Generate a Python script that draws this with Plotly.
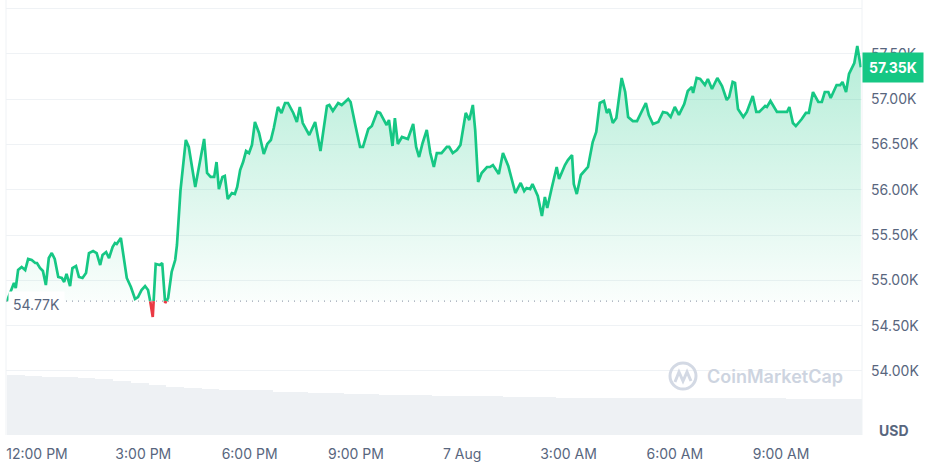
import pandas as pd
import plotly.graph_objects as go

# ---------------- data ----------------
start = pd.Timestamp("2024-08-06 11:00")

# minutes after 11:00 AM, 6 Aug 2024
t_min = [9,17,21,24,28,34,40,45,51,57,
         60,65,70,75,80,85,90,96,102,106,
         110,116,120,126,131,137,143,148,155,161,
         167,171,177,182,188,192,195,202,207,212,
         219,226,231,237,243,248,252,256,261,268,
         272,277,282,288,294,297,303,312,317,328,
         336,343,348,354,360,364,368,374,378,383,
         390,395,399,404,409,414,419,424,429,436,
         444,450,456,461,468,474,480,485,494,500,
         505,510,521,531,540,551,555,561,570,576,
         587,591,599,607,612,621,627,636,641,652,
         656,662,666,671,678,686,688,697,702,707,
         713,720,726,732,737,745,754,758,764,771,
         777,786,792,798,802,807,813,822,827,832,
         842,849,858,870,879,885,889,895,899,908,
         915,920,924,932,940,944,954,959,966,969,
         974,981,986,993,1001,1007,1013,1020,1025,1029,
         1035,1041,1050,1056,1061,1069,1076,1082,1091,1096,
         1103,1112,1120,1127,1133,1140,1147,1156,1162,1169,
         1171,1177,1183,1191,1196,1203,1212,1220,1228,1232,
         1238,1242,1247,1256,1262,1272,1278,1283,1293,1296,
         1302,1313,1323,1330,1334,1340,1345,1355,1362,1367,
         1374,1383,1389,1394,1400,1404,1414,1420,1424,1430,
         1435,1444,1449,1455]

price = [54770,54915,54971,54915,55114,55147,55114,55235,55224,55191,
         55191,55136,55103,54948,55246,55301,55235,55037,55026,54982,
         55070,54937,55136,55158,55037,55026,55081,55301,55323,55301,
         55169,55279,55312,55246,55368,55412,55401,55467,55224,55026,
         54926,54794,54816,54893,54937,54893,54761,54595,55180,55169,
         55191,54750,54805,55092,55224,55390,55996,56548,56471,56029,
         56294,56559,56184,56140,56140,56305,56007,56140,56151,55897,
         55963,55952,56029,56217,56305,56426,56404,56493,56746,56625,
         56393,56504,56548,56680,56912,56846,56956,56956,56846,56746,
         56912,56735,56603,56746,56426,56923,56934,56868,56956,56934,
         57000,56967,56713,56471,56471,56669,56702,56857,56846,56713,
         56768,56482,56790,56504,56581,56570,56559,56724,56471,56360,
         56515,56658,56404,56250,56404,56404,56471,56471,56404,56437,
         56493,56846,56768,56934,56658,56085,56184,56250,56250,56272,
         56173,56404,56261,55963,56074,55985,56018,56007,56062,55930,
         55710,55919,55798,56029,56250,56118,56272,56327,56382,56062,
         55952,56162,56195,56250,56526,56636,56956,56978,56846,56890,
         56735,56790,57232,57077,56801,56757,56757,56835,56956,56824,
         56724,56746,56857,56846,56801,56912,56824,56945,57088,57132,
         57066,57232,57221,57154,57221,57110,57232,57143,56989,57022,
         57188,57177,56890,56801,56857,57033,56857,56857,56923,56912,
         56978,56857,56857,56857,56912,56735,56702,56779,56846,56846,
         57077,56967,56967,57077,57077,57011,57154,57154,57188,57077,
         57276,57397,57585,57350]

open_price = 54770
last_price = 57350

# volume (USD bn), 30-minute buckets
vol_start_min = 9
volume_bn = [41.7, 41.0, 40.6, 40.6, 39.9, 38.9, 37.8, 36.4, 35.0, 33.6,
             32.9, 32.2, 31.5, 31.5, 31.2, 30.1, 29.8, 29.4, 29.1, 28.7,
             28.4, 28.0, 28.0, 27.7, 27.3, 27.3, 27.0, 27.0, 26.6, 26.3,
             26.3, 25.9, 25.9, 25.9, 25.9, 25.9, 25.9, 25.9, 25.9, 25.9,
             25.9, 25.9, 25.9, 25.9, 24.9, 24.9, 24.9, 24.9, 24.9]

x_tick_times = ["2024-08-06 12:00", "2024-08-06 15:00", "2024-08-06 18:00",
                "2024-08-06 21:00", "2024-08-07 00:00", "2024-08-07 03:00",
                "2024-08-07 06:00", "2024-08-07 09:00"]
x_tick_text = ["12:00 PM", "3:00 PM", "6:00 PM", "9:00 PM", "7 Aug",
               "3:00 AM", "6:00 AM", "9:00 AM"]
y_tick_vals = [54000, 54500, 55000, 55500, 56000, 56500, 57000, 57500, 58000]
y_tick_text = ["54.00K", "54.50K", "55.00K", "55.50K", "56.00K", "56.50K",
               "57.00K", "57.50K", ""]

assert len(t_min) == len(price)

# ---------------- processing ----------------
GREEN = "#16c784"
RED = "#ea3943"
GREY = "#58667e"
GRID = "#eff2f5"
FS = 14

xs_m, ys = [], []
for i in range(len(t_min)):
    if i > 0:
        p0, p1 = price[i - 1], price[i]
        if (p0 - open_price) * (p1 - open_price) < 0:
            f = (open_price - p0) / (p1 - p0)
            xs_m.append(t_min[i - 1] + (t_min[i] - t_min[i - 1]) * f)
            ys.append(open_price)
    xs_m.append(t_min[i])
    ys.append(price[i])

xs = [start + pd.Timedelta(minutes=m) for m in xs_m]
green = [y if y >= open_price else None for y in ys]
red = [y if y <= open_price else None for y in ys]
yfill = [max(y, open_price) for y in ys]

vol_x = [start + pd.Timedelta(minutes=vol_start_min + 15 + 30 * i) for i in range(len(volume_bn))]

fig = go.Figure()
fig.add_trace(go.Bar(x=vol_x, y=volume_bn, yaxis="y2", marker_color="#eef1f4",
                     marker_line_width=0, hoverinfo="skip", showlegend=False))
fig.add_trace(go.Scatter(x=[xs[0], xs[-1]], y=[open_price, open_price], mode="lines",
                         line=dict(width=0), hoverinfo="skip", showlegend=False))
fig.add_trace(go.Scatter(x=xs, y=yfill, mode="lines", line=dict(width=0),
                         fill="tonexty",
                         fillgradient=dict(type="vertical",
                                           colorscale=[[0, "rgba(22,199,132,0.02)"],
                                                       [1, "rgba(22,199,132,0.32)"]],
                                           start=open_price, stop=57600),
                         hoverinfo="skip", showlegend=False))
fig.add_trace(go.Scatter(x=xs, y=green, mode="lines", line=dict(color=GREEN, width=2.7),
                         connectgaps=False, showlegend=False))
fig.add_trace(go.Scatter(x=xs, y=red, mode="lines", line=dict(color=RED, width=2.7),
                         connectgaps=False, showlegend=False))

L, R, T, B = 6, 69, 0, 27
W, H = 931, 462
PW, PH = W - L - R, H - T - B


def px(x, y):
    return (x - L) / PW, (H - B - y) / PH


shapes = [
    dict(type="line", xref="paper", yref="paper", x0=0, x1=0, y0=0, y1=1,
         line=dict(color=GRID, width=1)),
    dict(type="line", xref="paper", yref="paper", x0=1, x1=1, y0=0, y1=1,
         line=dict(color=GRID, width=1)),
    dict(type="line", xref="paper", yref="y", x0=0, x1=1, y0=open_price, y1=open_price,
         line=dict(color="#9aa3b2", width=1.3, dash="1px,5px")),
]
# watermark logo
cx0, cy0 = px(670, 389)
cx1, cy1 = px(696, 363)
shapes.append(dict(type="circle", xref="paper", yref="paper", x0=cx0, y0=cy0, x1=cx1, y1=cy1,
                   line=dict(color="#d3d9e4", width=3)))
pts = [px(675, 382), px(679, 372), px(683, 381), px(687, 372), px(691, 381)]
path = "M " + " L ".join(f"{a:.4f},{b:.4f}" for a, b in pts)
shapes.append(dict(type="path", xref="paper", yref="paper", path=path,
                   line=dict(color="#d3d9e4", width=3)))

ux, uy = px(894, 430)
wx, wy = px(775, 376)
annotations = [
    dict(xref="paper", yref="y", x=px(36, 0)[0], xanchor="center", y=open_price, yshift=-3,
         text="54.77K", showarrow=False, bgcolor="white", borderpad=4,
         font=dict(family="Inter", size=FS, color=GREY)),
    dict(xref="paper", yref="y", x=1, xanchor="left", xshift=0, y=last_price,
         text="<b>57.35K</b>", showarrow=False, bgcolor=GREEN, borderpad=6,
         font=dict(family="Inter", size=FS, color="white")),
    dict(xref="paper", yref="paper", x=ux, y=uy, xanchor="center", yanchor="middle",
         text="<b>USD</b>", showarrow=False,
         font=dict(family="Inter", size=FS, color=GREY)),
    dict(xref="paper", yref="paper", x=wx, y=wy, xanchor="center", yanchor="middle",
         text="CoinMarketCap", showarrow=False,
         font=dict(family="Inter", size=18, color="#cdd4e0", weight=600)),
]

fig.update_layout(
    width=W, height=H, margin=dict(l=L, r=R, t=T, b=B),
    plot_bgcolor="white", paper_bgcolor="white",
    bargap=0, showlegend=False,
    font=dict(family="Inter", size=FS, color=GREY),
    xaxis=dict(type="date",
               range=[start + pd.Timedelta(minutes=7.5), start + pd.Timedelta(minutes=1457)],
               tickvals=x_tick_times, ticktext=x_tick_text, showgrid=False,
               zeroline=False, showline=False, ticks="", ticklabelstandoff=9,
               tickfont=dict(family="Inter", size=FS, color=GREY)),
    yaxis=dict(side="right", range=[53294, 58092], tickvals=y_tick_vals,
               ticktext=y_tick_text, gridcolor=GRID, gridwidth=1, zeroline=False,
               showline=False, ticks="", ticklabelstandoff=8,
               tickfont=dict(family="Inter", size=FS, color=GREY)),
    yaxis2=dict(overlaying="y", range=[0, 304.5], visible=False),
    shapes=shapes, annotations=annotations,
)

fig.write_html("out.html", config={"displayModeBar": False},
               post_script="document.body.style.margin='0';")
